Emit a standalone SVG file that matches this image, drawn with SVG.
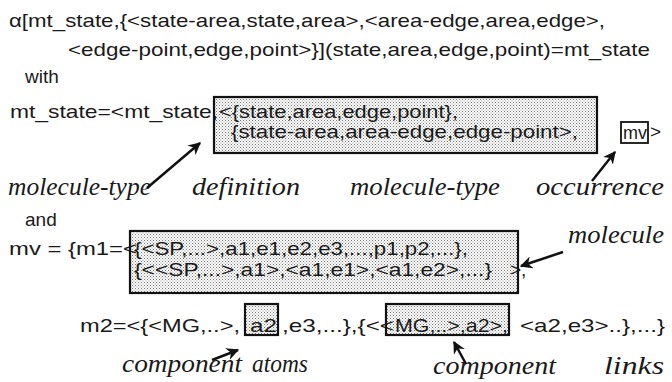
<svg xmlns="http://www.w3.org/2000/svg" width="672" height="382" viewBox="0 0 672 382">
<defs>
<pattern id="dots" width="3" height="3" patternUnits="userSpaceOnUse">
<rect width="3" height="3" fill="#fff"/>
<rect x="0" y="0" width="1" height="1" fill="#777"/>
<rect x="1.5" y="1.5" width="1" height="1" fill="#888"/>
</pattern>
<marker id="ah" viewBox="0 0 10 10" refX="9" refY="5" markerWidth="5" markerHeight="5" orient="auto" markerUnits="strokeWidth">
<path d="M0,0 L10,5 L0,10 L3,5 z" fill="#111"/>
</marker>
<style>
.t{font-family:"Liberation Sans",Arial,Helvetica,sans-serif;font-size:19px;fill:#1a1a1a}
.i{font-family:"Liberation Serif","Times New Roman",serif;font-style:italic;font-size:26px;fill:#1a1a1a}
.box{fill:url(#dots);stroke:#111;stroke-width:2.2}
.ob{fill:none;stroke:#111;stroke-width:1.8}
.arr{stroke:#111;stroke-width:2.5;fill:none;marker-end:url(#ah)}
</style>
</defs>

<g id="formula">
<text class="t" x="9" y="27" textLength="596" lengthAdjust="spacingAndGlyphs">α[mt_state,{&lt;state-area,state,area&gt;,&lt;area-edge,area,edge&gt;,</text>
<text class="t" x="68" y="56" textLength="582" lengthAdjust="spacingAndGlyphs">&lt;edge-point,edge,point&gt;}](state,area,edge,point)=mt_state</text>
<text class="t" x="25" y="83">with</text>
<text class="t" x="25" y="226">and</text>
</g>

<g id="mt-definition">
<rect class="box" x="214" y="97" width="383" height="56"/>
<text class="t" x="10" y="118" textLength="208" lengthAdjust="spacingAndGlyphs">mt_state=&lt;mt_state,</text>
<text class="t" x="219" y="118" textLength="239" lengthAdjust="spacingAndGlyphs">&lt;{state,area,edge,point},</text>
<text class="t" x="231" y="138" textLength="347" lengthAdjust="spacingAndGlyphs">{state-area,area-edge,edge-point&gt;,</text>
</g>

<g id="mt-occurrence">
<rect class="ob" x="621" y="122" width="27" height="21"/>
<text class="t" x="623" y="139" textLength="24" lengthAdjust="spacingAndGlyphs">mv</text>
<text class="t" x="650" y="138">&gt;</text>
</g>

<g id="molecule-m1">
<rect class="box" x="130" y="231" width="388" height="62"/>
<text class="t" x="9" y="255" textLength="128" lengthAdjust="spacingAndGlyphs">mv = {m1=&lt;</text>
<text class="t" x="134" y="255" textLength="334" lengthAdjust="spacingAndGlyphs">{&lt;SP,...&gt;,a1,e1,e2,e3,...,p1,p2,...},</text>
<text class="t" x="134" y="276" textLength="358" lengthAdjust="spacingAndGlyphs">{&lt;&lt;SP,...&gt;,a1&gt;,&lt;a1,e1&gt;,&lt;a1,e2&gt;,...}</text>
<text class="t" x="510" y="276">&gt;,</text>
</g>

<g id="molecule-m2">
<rect class="box" x="245" y="304" width="33" height="31"/>
<rect class="box" x="386" y="304" width="123" height="31"/>
<text class="t" x="80" y="332" textLength="160" lengthAdjust="spacingAndGlyphs">m2=&lt;{&lt;MG,..&gt;,</text>
<text class="t" x="250" y="332" textLength="27" lengthAdjust="spacingAndGlyphs">a2</text>
<text class="t" x="282" y="332" textLength="112" lengthAdjust="spacingAndGlyphs">,e3,...},{&lt;&lt;</text>
<text class="t" x="395" y="332" textLength="113" lengthAdjust="spacingAndGlyphs">MG,..&gt;,a2&gt;,</text>
<text class="t" x="520" y="332" textLength="145" lengthAdjust="spacingAndGlyphs">&lt;a2,e3&gt;..},...}</text>
</g>

<g id="labels">
<text class="i" x="8" y="195" textLength="143" lengthAdjust="spacingAndGlyphs">molecule-type</text>
<text class="i" x="192" y="195" textLength="108" lengthAdjust="spacingAndGlyphs">definition</text>
<text class="i" x="350" y="195" textLength="150" lengthAdjust="spacingAndGlyphs">molecule-type</text>
<text class="i" x="536" y="195" textLength="128" lengthAdjust="spacingAndGlyphs">occurrence</text>
<text class="i" x="568" y="243" textLength="96" lengthAdjust="spacingAndGlyphs">molecule</text>
<text class="i" x="122" y="372" textLength="120" lengthAdjust="spacingAndGlyphs">component</text>
<text class="i" x="252" y="372" textLength="56" lengthAdjust="spacingAndGlyphs">atoms</text>
<text class="i" x="433" y="374" textLength="123" lengthAdjust="spacingAndGlyphs">component</text>
<text class="i" x="604" y="374" textLength="60" lengthAdjust="spacingAndGlyphs">links</text>
</g>

<g id="connectors">
<line class="arr" x1="147" y1="188" x2="200" y2="143"/>
<line class="arr" x1="592" y1="181" x2="615" y2="152"/>
<line class="arr" x1="563" y1="252" x2="521" y2="266"/>
<line class="arr" x1="212" y1="360" x2="238" y2="350"/>
<line class="arr" x1="466" y1="364" x2="454" y2="342"/>
</g>
</svg>
